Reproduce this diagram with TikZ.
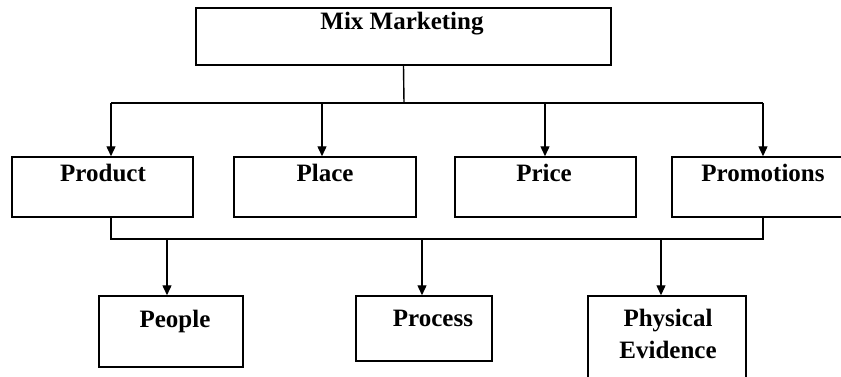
\documentclass[tikz,border=0pt]{standalone}
\usepackage{fontspec}
\setmainfont{Liberation Serif}
\usetikzlibrary{arrows.meta}
\begin{document}
\begin{tikzpicture}[x=1pt,y=-1pt,
  boxs/.style={draw=black,line width=1.5pt,minimum width=#1,inner sep=0pt},
  lbl/.style={anchor=base,inner sep=0pt,font=\fontsize{25}{30}\selectfont\bfseries},
  con/.style={draw=black,line width=1.4pt},
  arr/.style={con,-{Triangle[width=9pt,length=10pt]}}]
\useasboundingbox (0,0) rectangle (841,376);
\fill[white] (0,0) rectangle (841,376);
\clip (0,0) rectangle (841,376);
% boxes
\node[boxs=415pt,minimum height=57pt] (mix) at (403.5,36.5) {};
\node[boxs=181pt,minimum height=60pt] (product) at (102.5,187) {};
\node[boxs=182pt,minimum height=60pt] (place) at (325,187) {};
\node[boxs=181pt,minimum height=60pt] (price) at (545.5,187) {};
\node[boxs=181pt,minimum height=60pt] (promo) at (762.5,187) {};
\node[boxs=144pt,minimum height=71pt] (people) at (171,331.5) {};
\node[boxs=136pt,minimum height=65pt] (process) at (424,328.5) {};
\node[boxs=158pt,minimum height=86pt] (phys) at (667,339) {};
% texts
\node[lbl] (mixT) at (402,29) {Mix Marketing};
\node[lbl] (productT) at (103,181) {Product};
\node[lbl] (placeT) at (325,181) {Place};
\node[lbl] (priceT) at (544,181) {Price};
\node[lbl] (promoT) at (763,181) {Promotions};
\node[lbl] (peopleT) at (175,327) {People};
\node[lbl] (processT) at (433,326) {Process};
\node[lbl] (physT) at (668,326) {Physical};
\node[lbl] (evidT) at (668,358) {Evidence};
% bus coordinates
\coordinate (bus1) at (404,103);
\coordinate (a1) at (111,103);
\coordinate (a2) at (322,103);
\coordinate (a3) at (545,103);
\coordinate (a4) at (763,103);
\coordinate (bus2) at (111,239);
\coordinate (b1) at (167,239);
\coordinate (b2) at (422,239);
\coordinate (b3) at (661,239);
% upper connectors
\draw[con] (mix.south) -- (bus1);
\draw[con] (a1) -- (a4);
\draw[arr] (a1) -- (a1 |- product.north);
\draw[arr] (a2) -- (a2 |- place.north);
\draw[arr] (a3) -- (a3 |- price.north);
\draw[arr] (a4) -- (a4 |- promo.north);
% lower connectors
\draw[con] (bus2 |- product.south) -- (bus2) -- (a4 |- bus2) -- (a4 |- promo.south);
\draw[arr] (b1) -- (b1 |- people.north);
\draw[arr] (b2) -- (b2 |- process.north);
\draw[arr] (b3) -- (b3 |- phys.north);
\end{tikzpicture}
\end{document}
